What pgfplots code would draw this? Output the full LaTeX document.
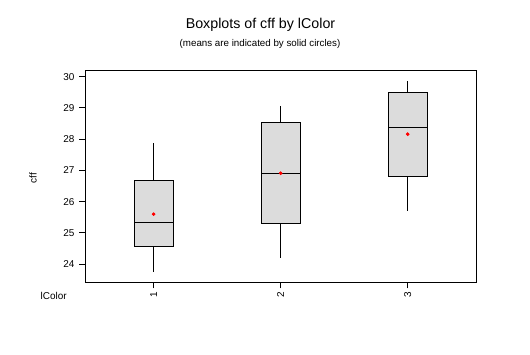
\documentclass[border=0pt]{standalone}
\usepackage{fontspec}
\setmainfont{Liberation Sans}
\usepackage{pgfplots}
\pgfplotsset{compat=1.18}
\usepgfplotslibrary{statistics}
\definecolor{boxgray}{HTML}{DCDCDC}
\begin{document}
\begin{tikzpicture}[x=1bp,y=1bp]
\useasboundingbox (0,0) rectangle (530,354);
\begin{axis}[
  at={(85bp,71.7bp)}, anchor=south west,
  width=391.3bp, height=211.3bp, scale only axis,
  xmin=0.46, xmax=3.54, ymin=23.42, ymax=30.18,
  xtick={1,2,3}, ytick={24,25,26,27,28,29,30},
  xticklabels={1,2,3},
  xticklabel style={rotate=90, anchor=east},
  tick align=outside, major tick length=6bp,
  xtick pos=bottom, ytick pos=left,
  tick style={black, line width=1bp},
  axis line style={line width=1bp},
  tick label style={font=\fontsize{10}{12}\selectfont},
  /pgf/number format/assume math mode=true,
  yticklabel style={xshift=-1bp},
  boxplot/draw direction=y,
]
\addplot+[boxplot prepared={draw position=1, lower whisker=23.74, lower quartile=24.58, median=25.34, upper quartile=26.69, upper whisker=27.88, box extend=0.307, whisker extend=0}, draw=black, fill=boxgray, line width=1bp, mark=*, mark size=1.2bp, mark options={red, fill=red, draw=red}] coordinates {(1,25.60)};
\addplot+[boxplot prepared={draw position=2, lower whisker=24.21, lower quartile=25.31, median=26.91, upper quartile=28.54, upper whisker=29.07, box extend=0.307, whisker extend=0}, draw=black, fill=boxgray, line width=1bp, mark=*, mark size=1.2bp, mark options={red, fill=red, draw=red}] coordinates {(2,26.91)};
\addplot+[boxplot prepared={draw position=3, lower whisker=25.71, lower quartile=26.81, median=28.38, upper quartile=29.50, upper whisker=29.86, box extend=0.307, whisker extend=0}, draw=black, fill=boxgray, line width=1bp, mark=*, mark size=1.2bp, mark options={red, fill=red, draw=red}] coordinates {(3,28.16)};
\addplot[only marks, mark=*, mark size=1.2bp, red] coordinates {(1,25.60) (2,26.91) (3,28.16)};
\end{axis}
\node at (260.5,329) {\fontsize{14.3}{16}\selectfont Boxplots of cff by lColor};
\node at (260,310.3) {\fontsize{9.8}{11}\selectfont (means are indicated by solid circles)};
\node[rotate=90] at (33,176) {\fontsize{10}{12}\selectfont cff};
\node at (53.7,58) {\fontsize{10}{12}\selectfont lColor};
\end{tikzpicture}
\end{document}
